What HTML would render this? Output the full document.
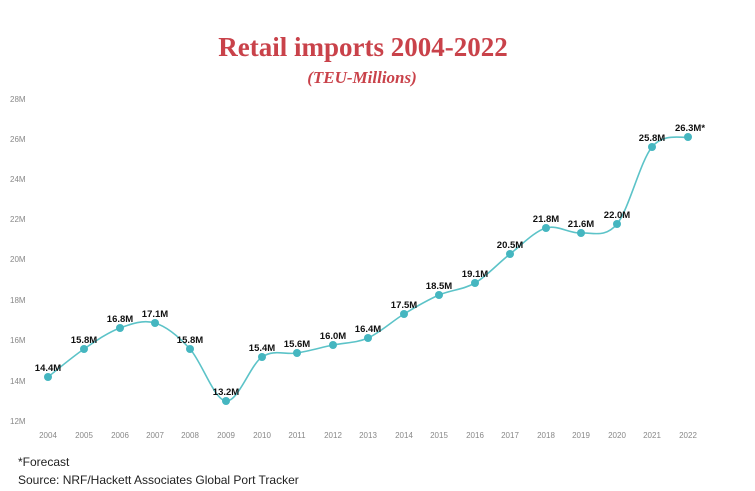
<!DOCTYPE html>
<html><head><meta charset="utf-8"><style>
html,body{margin:0;padding:0;background:#fff;width:755px;height:491px;overflow:hidden}
</style></head><body>
<svg id="s" width="755" height="491" xmlns="http://www.w3.org/2000/svg" style="font-family:'Liberation Sans',sans-serif">
<text x="363" y="56" text-anchor="middle" font-family="Liberation Serif,serif" font-weight="bold" font-size="27" fill="#c9424a">Retail imports 2004-2022</text>
<text x="362" y="83" text-anchor="middle" font-family="Liberation Serif,serif" font-weight="bold" font-style="italic" font-size="17" fill="#c9424a">(TEU-Millions)</text>
<g font-size="8" fill="#888">
<text x="10" y="102">28M</text><text x="10" y="142">26M</text><text x="10" y="182">24M</text><text x="10" y="222">22M</text><text x="10" y="262">20M</text><text x="10" y="303">18M</text><text x="10" y="343">16M</text><text x="10" y="384">14M</text><text x="10" y="424">12M</text>
</g>
<g id="xl" font-size="8" fill="#888" text-anchor="middle"></g>
<path id="ln" fill="none" stroke="#5cc3c8" stroke-width="1.6"/>
<g id="pts" fill="#45b6c0"></g>
<g id="lb" font-size="9.5" font-weight="bold" fill="#111" text-anchor="middle"></g>
<text x="18" y="466" font-size="12" fill="#222">*Forecast</text>
<text x="18" y="484" font-size="12" fill="#222">Source: NRF/Hackett Associates Global Port Tracker</text>
</svg>
<script>
var P=[[48,377],[84,349],[120,328],[155,323],[190,349],[226,401],[262,357],[297,353],[333,345],[368,338],[404,314],[439,295],[475,283],[510,254],[546,228],[581,233],[617,224],[652,147],[688,137]];
var L=["14.4M","15.8M","16.8M","17.1M","15.8M","13.2M","15.4M","15.6M","16.0M","16.4M","17.5M","18.5M","19.1M","20.5M","21.8M","21.6M","22.0M","25.8M","26.3M*"];
var ns="http://www.w3.org/2000/svg";
function el(t,a,p,txt){var e=document.createElementNS(ns,t);for(var k in a)e.setAttribute(k,a[k]);if(txt)e.textContent=txt;document.getElementById(p).appendChild(e);}
var d="M"+P[0][0]+","+P[0][1];
for(var i=0;i<P.length-1;i++){var p0=P[Math.max(i-1,0)],p1=P[i],p2=P[i+1],p3=P[Math.min(i+2,P.length-1)];
d+=" C"+(p1[0]+(p2[0]-p0[0])/6)+","+(p1[1]+(p2[1]-p0[1])/6)+" "+(p2[0]-(p3[0]-p1[0])/6)+","+(p2[1]-(p3[1]-p1[1])/6)+" "+p2[0]+","+p2[1];}
document.getElementById("ln").setAttribute("d",d);
for(var i=0;i<P.length;i++){
el("circle",{cx:P[i][0],cy:P[i][1],r:4},"pts");
el("text",{x:P[i][0]+(i==18?2:0),y:P[i][1]-6},"lb",L[i]);
el("text",{x:P[i][0],y:438},"xl",String(2004+i));}
</script>
</body></html>
